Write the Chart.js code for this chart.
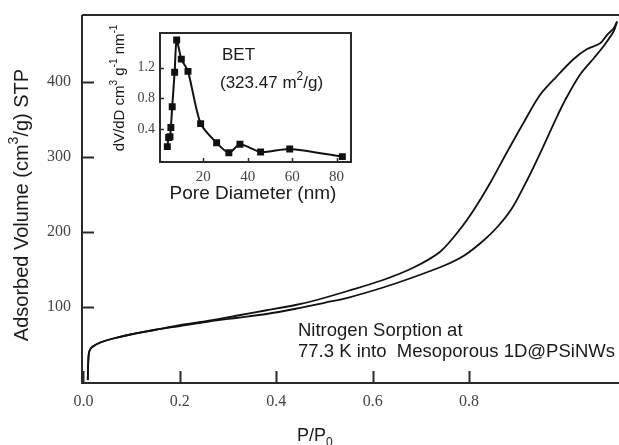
<!DOCTYPE html>
<html>
<head>
<meta charset="utf-8">
<script src="https://cdn.jsdelivr.net/npm/chart.js@4.4.0/dist/chart.umd.min.js"></script>
<style>
    html, body { margin: 0; padding: 0; background: #fff; }
    #wrap { position: relative; width: 619px; height: 445px; overflow: hidden; }
    #main { position: absolute; left: 0; top: 0; }
    #inset { position: absolute; left: 100px; top: 20px; }
</style>
</head>
<body>
<div id="wrap">
    <canvas id="main" width="619" height="445"></canvas>
    <canvas id="inset" width="260" height="190"></canvas>
</div>
<script>
// isotherm - adsorption branch (lower)
const adsP = [0.009, 0.010, 0.012, 0.018, 0.035, 0.06, 0.10, 0.15, 0.20, 0.26, 0.32, 0.38, 0.44, 0.50, 0.55, 0.62, 0.68, 0.75, 0.79, 0.83, 0.86, 0.89, 0.92, 0.95, 0.98, 1.00, 1.03, 1.06, 1.08, 1.10, 1.107];
const adsV = [2, 27, 40, 46, 52, 57, 63, 69, 74, 80, 85, 90, 97, 105, 112, 125, 138, 155, 168, 188, 207, 232, 268, 308, 350, 376, 409, 432, 448, 467, 480];
// desorption branch (upper)
const desP = [0.009, 0.010, 0.012, 0.018, 0.035, 0.06, 0.10, 0.15, 0.20, 0.26, 0.32, 0.38, 0.44, 0.48, 0.55, 0.62, 0.685, 0.74, 0.78, 0.81, 0.844, 0.878, 0.913, 0.947, 0.982, 1.017, 1.044, 1.072, 1.086, 1.10, 1.107];
const desV = [2, 27, 40, 46, 52, 57, 63, 69, 75, 81, 88, 95, 102, 108, 121, 135, 152, 173, 202, 229, 265, 305, 345, 382, 407, 430, 443, 451, 462, 471, 480];

// inset - pore size distribution
const poreD = [3.8, 4.4, 5.0, 5.4, 6.0, 7.1, 8.0, 10.1, 13.1, 18.8, 26.0, 31.5, 36.5, 45.8, 58.9, 82.6];
const poreDV = [0.17, 0.29, 0.30, 0.42, 0.69, 1.14, 1.56, 1.31, 1.15, 0.47, 0.22, 0.09, 0.20, 0.10, 0.14, 0.04];

const xTicks = [0, 0.2, 0.4, 0.6, 0.8];
const xTickLabels = ['0.0', '0.2', '0.4', '0.6', '0.8'];
const yTicks = [100, 200, 300, 400];
const insetXTicks = [20, 40, 60, 80];
const insetYTicks = [0.4, 0.8, 1.2];
const insetYTickLabels = ['0.4', '0.8', '1.2'];

const SANS = '"Liberation Sans", Arial, sans-serif';
const SERIF = '"Liberation Serif", "DejaVu Serif", serif';
const INK = '#1a1a1a';

function toXY(xs, ys) {
    return xs.map((x, i) => ({ x: x, y: ys[i] }));
}

// text with superscripts / subscripts
function drawRich(ctx, parts, x, y, size, align) {
    const fontFor = p => ((p.sup || p.sub) ? Math.round(size * 0.68) : size) + 'px ' + SANS;
    const widths = parts.map(p => { ctx.font = fontFor(p); return ctx.measureText(p.t).width; });
    const total = widths.reduce((a, b) => a + b, 0);
    let cx = align === 'center' ? x - total / 2 : x;
    ctx.textAlign = 'left';
    ctx.textBaseline = 'alphabetic';
    parts.forEach((p, i) => {
        ctx.font = fontFor(p);
        let dy = 0;
        if (p.sup) dy = -size * 0.48;
        if (p.sub) dy = size * 0.3;
        ctx.fillText(p.t, cx, y + dy);
        cx += widths[i];
    });
}

function drawFrame(chart, opts) {
    const ctx = chart.ctx;
    const a = chart.chartArea;
    ctx.save();
    ctx.strokeStyle = '#2a2a2a';
    ctx.lineWidth = opts.lw;
    ctx.beginPath();
    ctx.moveTo(a.left, a.top);
    ctx.lineTo(a.left, a.bottom);
    ctx.lineTo(a.right, a.bottom);
    if (opts.full) {
        ctx.lineTo(a.right, a.top);
        ctx.closePath();
    } else {
        ctx.moveTo(a.left, a.top);
        ctx.lineTo(a.right + 2, a.top);
    }
    ctx.stroke();
    // inward tick marks
    ctx.lineWidth = opts.tw;
    const xs = chart.scales.x, ys = chart.scales.y;
    xs.ticks.forEach(t => {
        const px = Math.round(xs.getPixelForValue(t.value)) + 0.5;
        ctx.beginPath();
        ctx.moveTo(px, a.bottom);
        ctx.lineTo(px, a.bottom - opts.tl);
        ctx.stroke();
    });
    ys.ticks.forEach(t => {
        const py = Math.round(ys.getPixelForValue(t.value)) + 0.5;
        ctx.beginPath();
        ctx.moveTo(a.left, py);
        ctx.lineTo(a.left + opts.tl, py);
        ctx.stroke();
    });
    ctx.restore();
}

// keep chart area exactly where the layout padding puts it
function noEdgePad(s) {
    s.paddingTop = 0;
    s.paddingBottom = 0;
    s.paddingLeft = 0;
    s.paddingRight = 0;
}

const mainDecor = {
    id: 'mainDecor',
    afterDraw(chart) {
        drawFrame(chart, { lw: 2, tw: 2, tl: 12, full: false });
        const ctx = chart.ctx;
        ctx.save();
        ctx.fillStyle = INK;
        // y title
        ctx.save();
        ctx.translate(28, 205);
        ctx.rotate(-Math.PI / 2);
        drawRich(ctx, [{ t: 'Adsorbed Volume (cm' }, { t: '3', sup: true }, { t: '/g) STP' }], 0, 0, 20, 'center');
        ctx.restore();
        // x title
        drawRich(ctx, [{ t: 'P/P' }, { t: '0', sub: true }], 297, 441, 18, 'left');
        // note
        ctx.font = '18.5px ' + SANS;
        ctx.textAlign = 'left';
        ctx.fillText('Nitrogen Sorption at', 298, 336);
        ctx.fillText('77.3 K into  Mesoporous 1D@PSiNWs', 298, 357);
        ctx.restore();
    }
};

const insetDecor = {
    id: 'insetDecor',
    afterDraw(chart) {
        drawFrame(chart, { lw: 2, tw: 1.5, tl: 4, full: true });
        const ctx = chart.ctx;
        ctx.save();
        ctx.fillStyle = INK;
        ctx.save();
        ctx.translate(24, 68);
        ctx.rotate(-Math.PI / 2);
        drawRich(ctx, [{ t: 'dV/dD cm' }, { t: '3', sup: true }, { t: ' g' }, { t: '-1', sup: true }, { t: ' nm' }, { t: '-1', sup: true }], 0, 0, 15, 'center');
        ctx.restore();
        drawRich(ctx, [{ t: 'Pore Diameter (nm)' }], 153, 179, 19, 'center');
        drawRich(ctx, [{ t: 'BET' }], 122, 40, 17, 'left');
        drawRich(ctx, [{ t: '(323.47 m' }, { t: '2', sup: true }, { t: '/g)' }], 120, 68, 17, 'left');
        ctx.restore();
    }
};

new Chart(document.getElementById('main'), {
    type: 'line',
    data: {
        datasets: [
            {
                label: 'Adsorption',
                data: toXY(adsP, adsV),
                borderColor: '#111',
                borderWidth: 1.8,
                pointRadius: 0,
                tension: 0.3,
                fill: false
            },
            {
                label: 'Desorption',
                data: toXY(desP, desV),
                borderColor: '#111',
                borderWidth: 1.8,
                pointRadius: 0,
                tension: 0.3,
                fill: false
            }
        ]
    },
    options: {
        responsive: false,
        animation: false,
        layout: { padding: { top: 15, right: 0, left: 0, bottom: 0 } },
        plugins: { legend: { display: false }, tooltip: { enabled: false } },
        scales: {
            x: {
                type: 'linear',
                min: -0.003,
                max: 1.111,
                afterBuildTicks: s => { s.ticks = xTicks.map(v => ({ value: v })); },
                afterFit: s => { s.height = 62; noEdgePad(s); },
                grid: { display: false, drawTicks: false },
                border: { display: false },
                ticks: {
                    callback: (v, i) => xTickLabels[i],
                    font: { family: SERIF, size: 16 },
                    color: '#444',
                    padding: 9,
                    maxRotation: 0,
                    autoSkip: false
                }
            },
            y: {
                type: 'linear',
                min: -2,
                max: 488.7,
                afterBuildTicks: s => { s.ticks = yTicks.map(v => ({ value: v })); },
                afterFit: s => { s.width = 82; noEdgePad(s); },
                grid: { display: false, drawTicks: false },
                border: { display: false },
                ticks: {
                    font: { family: SERIF, size: 16 },
                    color: '#444',
                    padding: 11
                }
            }
        }
    },
    plugins: [mainDecor]
});

new Chart(document.getElementById('inset'), {
    type: 'line',
    data: {
        datasets: [{
            label: 'PSD',
            data: toXY(poreD, poreDV),
            borderColor: '#111',
            backgroundColor: '#111',
            borderWidth: 2,
            pointStyle: 'rect',
            pointRadius: 3.5,
            tension: 0.25,
            fill: false
        }]
    },
    options: {
        responsive: false,
        animation: false,
        layout: { padding: { top: 13, right: 9, left: 0, bottom: 0 } },
        plugins: { legend: { display: false }, tooltip: { enabled: false } },
        scales: {
            x: {
                type: 'linear',
                min: 0.5,
                max: 86.5,
                afterBuildTicks: s => { s.ticks = insetXTicks.map(v => ({ value: v })); },
                afterFit: s => { s.height = 48; noEdgePad(s); },
                grid: { display: false, drawTicks: false },
                border: { display: false },
                ticks: {
                    font: { family: SERIF, size: 15 },
                    color: '#444',
                    padding: 6,
                    maxRotation: 0,
                    autoSkip: false
                }
            },
            y: {
                type: 'linear',
                min: -0.03,
                max: 1.65,
                afterBuildTicks: s => { s.ticks = insetYTicks.map(v => ({ value: v })); },
                afterFit: s => { s.width = 60; noEdgePad(s); },
                grid: { display: false, drawTicks: false },
                border: { display: false },
                ticks: {
                    callback: (v, i) => insetYTickLabels[i],
                    font: { family: SERIF, size: 14 },
                    color: '#444',
                    padding: 5
                }
            }
        }
    },
    plugins: [insetDecor]
});
</script>
</body>
</html>
